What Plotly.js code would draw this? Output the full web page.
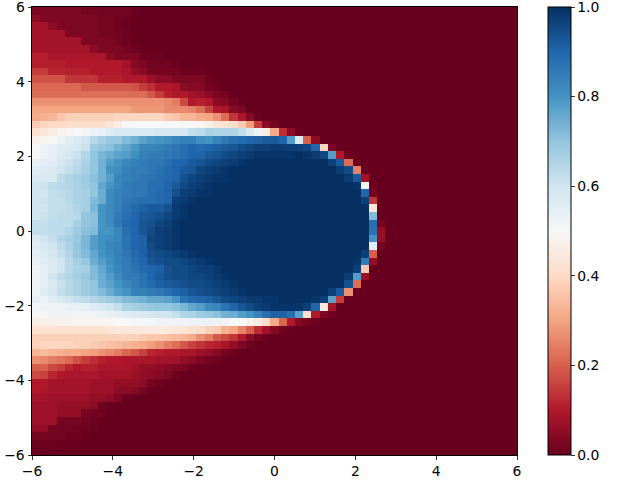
<!DOCTYPE html>
<html>
<head>
<meta charset="utf-8">
<script src="https://cdn.plot.ly/plotly-3.0.1.min.js"></script>
<style>html,body{margin:0;padding:0;background:#fff;overflow:hidden}</style>
</head>
<body>
<div id="chart" style="width:640px;height:500px;margin-top:-20px"></div>
<script>
// rows, top row (y = 6) first; what is missing at the end of a row is 0
var nCells = 59;
var tickValsX = [-6, -4, -2, 0, 2, 4, 6];
var tickValsBar = [0, 0.2, 0.4, 0.6, 0.8, 1];

var rowsTop = [
  [.03,.03,.03,.03,.03,.03,.02,.02,.015,.015,.015,.015,.005],
  [.05,.03,.03,.03,.03,.03,.03,.03,.02,.02,.015,.01],
  [.08,.08,.05,.03,.03,.03,.03,.03,.02,.02,.015,.005],
  [.08,.08,.08,.08,.03,.03,.03,.03,.02,.02,.015,.01],
  [.08,.08,.08,.08,.08,.08,.03,.03,.03,.03,.02,.01],
  [.08,.08,.08,.08,.08,.08,.08,.05,.03,.03,.03,.02,.01],
  [.11,.11,.09,.09,.09,.09,.09,.09,.09,.05,.03,.03,.03,.01,.01,.01],
  [.11,.11,.11,.11,.1,.1,.1,.1,.1,.1,.1,.08,.04,.03,.015,.015,.015,.01],
  [.15,.15,.12,.12,.11,.11,.11,.1,.1,.1,.1,.09,.06,.04,.02,.02,.02,.02,.01,.01,.01],
  [.18,.18,.18,.18,.14,.14,.14,.14,.11,.11,.11,.1,.1,.1,.07,.05,.05,.03,.03,.03,.03,.01],
  [.21,.21,.21,.21,.21,.21,.19,.19,.19,.19,.19,.19,.18,.15,.13,.1,.1,.09,.05,.04,.04,.02,.01],
  [.22,.22,.22,.22,.22,.22,.22,.22,.22,.22,.22,.22,.22,.22,.19,.15,.11,.1,.1,.08,.07,.05,.03,.02],
  [.27,.27,.27,.27,.27,.27,.27,.27,.27,.27,.27,.27,.27,.27,.27,.27,.26,.24,.17,.1,.11,.1,.05,.04,.02,.005],
  [.3,.3,.3,.3,.3,.3,.3,.3,.3,.3,.3,.3,.28,.28,.28,.28,.26,.26,.26,.25,.22,.16,.1,.09,.04,.03],
  [.31,.32,.33,.36,.38,.38,.38,.38,.38,.38,.39,.39,.39,.39,.39,.39,.37,.36,.33,.33,.31,.3,.27,.22,.14,.09,.04,.005],
  [.37,.39,.4,.4,.41,.41,.41,.41,.41,.43,.46,.5,.5,.5,.5,.5,.5,.5,.5,.5,.49,.47,.44,.43,.41,.37,.29,.15,.05,.02],
  [.42,.44,.46,.48,.49,.5,.51,.53,.54,.56,.58,.58,.58,.58,.58,.59,.59,.59,.59,.62,.63,.66,.65,.65,.65,.62,.58,.53,.46,.31,.13,.05,.01],
  [.47,.49,.5,.53,.56,.58,.6,.64,.67,.69,.69,.72,.74,.77,.79,.8,.81,.83,.84,.84,.81,.8,.83,.86,.88,.89,.9,.91,.92,.92,.9,.78,.57,.2,.05],
  [.5,.53,.54,.56,.57,.59,.61,.68,.7,.71,.74,.76,.79,.83,.83,.84,.85,.86,.88,.9,.89,.9,.91,.92,.93,.95,.96,.97,.97,.98,.98,.97,.97,.96,.9,.39,.03],
  [.51,.53,.55,.57,.59,.61,.65,.7,.73,.75,.77,.78,.81,.84,.85,.85,.86,.87,.88,.9,.9,.92,.93,.95,.96,.97,.98,.99,.99,.99,.99,.99,1,.99,.98,.96,.78,.1,.01],
  [.54,.55,.56,.58,.61,.63,.66,.7,.74,.78,.8,.83,.84,.85,.86,.86,.88,.9,.9,.92,.93,.95,.96,.97,.98,.99,1,1,1,1,1,1,1,1,1,1,.97,.92,.22,.01],
  [.56,.57,.58,.6,.62,.64,.67,.7,.74,.8,.81,.84,.85,.85,.86,.87,.89,.9,.92,.93,.96,.97,.98,.99,1,1,1,1,1,1,1,1,1,1,1,1,1,.98,.95,.25],
  [.58,.58,.58,.63,.65,.67,.68,.71,.74,.78,.83,.84,.85,.86,.87,.88,.89,.9,.94,.96,.97,.98,.99,.99,1,1,1,1,1,1,1,1,1,1,1,1,1,1,.98,.92,.08],
  [.6,.61,.63,.64,.65,.66,.68,.7,.76,.8,.83,.85,.86,.86,.88,.88,.9,.92,.95,.97,.98,.99,1,1,1,1,1,1,1,1,1,1,1,1,1,1,1,1,1,.99,.5,.01],
  [.6,.6,.62,.63,.64,.66,.67,.7,.75,.82,.84,.85,.86,.86,.88,.89,.9,.94,.97,.98,.99,.99,1,1,1,1,1,1,1,1,1,1,1,1,1,1,1,1,1,1,.9,.02],
  [.6,.61,.62,.62,.64,.66,.67,.72,.75,.82,.84,.86,.87,.88,.88,.89,.9,.97,.98,.99,1,1,1,1,1,1,1,1,1,1,1,1,1,1,1,1,1,1,1,1,.97,.14],
  [.6,.6,.62,.62,.63,.65,.67,.73,.8,.82,.84,.87,.89,.91,.92,.92,.94,.98,.99,1,1,1,1,1,1,1,1,1,1,1,1,1,1,1,1,1,1,1,1,1,1,.44],
  [.6,.61,.62,.63,.63,.64,.7,.71,.8,.82,.85,.88,.9,.92,.93,.94,.96,.98,.99,1,1,1,1,1,1,1,1,1,1,1,1,1,1,1,1,1,1,1,1,1,1,.72],
  [.62,.62,.63,.63,.63,.67,.7,.71,.8,.82,.86,.89,.9,.93,.94,.96,.97,.99,1,1,1,1,1,1,1,1,1,1,1,1,1,1,1,1,1,1,1,1,1,1,1,.88,.02]
];

var rowsMiddle = [
  [.62,.62,.63,.63,.65,.68,.71,.72,.8,.8,.83,.88,.9,.93,.95,.97,.98,.99,1,1,1,1,1,1,1,1,1,1,1,1,1,1,1,1,1,1,1,1,1,1,1,.87,.06]
];

var rowsBottom = [
  [.57,.6,.62,.65,.67,.69,.73,.78,.81,.82,.83,.87,.9,.91,.96,.97,.98,.99,1,1,1,1,1,1,1,1,1,1,1,1,1,1,1,1,1,1,1,1,1,1,1,.8,.06],
  [.56,.58,.6,.63,.66,.7,.73,.78,.81,.83,.84,.87,.9,.91,.95,.97,.98,.99,1,1,1,1,1,1,1,1,1,1,1,1,1,1,1,1,1,1,1,1,1,1,1,.55,.02],
  [.55,.57,.59,.62,.65,.69,.72,.76,.8,.82,.84,.86,.89,.91,.94,.95,.96,.97,.98,.99,1,1,1,1,1,1,1,1,1,1,1,1,1,1,1,1,1,1,1,1,.97,.2],
  [.54,.56,.58,.6,.64,.67,.69,.75,.78,.81,.84,.85,.88,.9,.93,.94,.95,.95,.96,.97,.98,.99,1,1,1,1,1,1,1,1,1,1,1,1,1,1,1,1,1,.99,.85,.06],
  [.53,.55,.57,.6,.64,.66,.67,.72,.76,.8,.83,.85,.87,.89,.9,.91,.94,.95,.95,.96,.97,.97,.985,1,1,1,1,1,1,1,1,1,1,1,1,1,1,1,1,.97,.37],
  [.53,.55,.6,.63,.65,.67,.69,.72,.75,.78,.82,.85,.85,.87,.9,.92,.94,.95,.95,.96,.96,.97,.98,.99,1,1,1,1,1,1,1,1,1,1,1,1,1,1,.98,.78,.07],
  [.52,.55,.58,.61,.64,.66,.68,.7,.75,.77,.8,.83,.85,.87,.89,.91,.92,.93,.94,.95,.95,.96,.97,.98,.99,1,1,1,1,1,1,1,1,1,1,1,1,1,.94,.22],
  [.52,.56,.59,.62,.64,.66,.68,.7,.72,.75,.78,.8,.84,.84,.85,.86,.88,.9,.91,.93,.94,.95,.96,.97,.98,.99,1,1,1,1,1,1,1,1,1,1,.97,.92,.27],
  [.55,.53,.56,.58,.6,.62,.63,.65,.67,.68,.7,.72,.73,.74,.76,.76,.77,.8,.87,.89,.9,.91,.93,.95,.96,.97,.98,.98,.99,.99,1,1,1,1,.99,.97,.77,.15],
  [.51,.52,.52,.53,.54,.54,.55,.56,.58,.6,.62,.66,.67,.68,.69,.7,.7,.71,.73,.76,.78,.82,.83,.87,.9,.93,.95,.97,.98,.99,.99,.99,.99,.97,.9,.45,.08],
  [.49,.51,.52,.52,.52,.52,.52,.52,.53,.54,.55,.56,.57,.58,.59,.6,.6,.62,.65,.66,.68,.69,.71,.74,.75,.78,.8,.84,.88,.91,.91,.88,.77,.42,.1,.03,.015],
  [.46,.47,.47,.48,.48,.49,.49,.49,.49,.49,.5,.5,.51,.51,.51,.52,.52,.52,.52,.53,.53,.53,.52,.52,.5,.5,.48,.46,.41,.31,.21,.1,.04,.02,.01],
  [.42,.42,.42,.42,.42,.42,.42,.42,.42,.43,.44,.44,.44,.44,.45,.45,.45,.44,.43,.42,.41,.38,.37,.32,.3,.25,.2,.13,.08,.04,.015,.005],
  [.38,.38,.38,.38,.38,.38,.38,.38,.38,.38,.38,.38,.38,.37,.36,.36,.35,.34,.33,.31,.27,.24,.19,.17,.14,.1,.05,.02,.005],
  [.38,.39,.39,.39,.39,.38,.38,.37,.36,.35,.34,.33,.32,.31,.29,.27,.24,.22,.19,.16,.14,.12,.11,.09,.06,.03,.01],
  [.33,.34,.33,.32,.31,.31,.3,.29,.27,.26,.24,.21,.19,.16,.12,.11,.1,.1,.09,.09,.07,.06,.04,.02,.01],
  [.27,.26,.24,.23,.21,.18,.15,.13,.11,.1,.1,.09,.09,.09,.09,.08,.08,.08,.06,.05,.03,.02,.01],
  [.2,.2,.17,.15,.12,.1,.11,.11,.09,.09,.09,.09,.08,.06,.06,.05,.04,.03,.03,.01,.005],
  [.17,.16,.12,.1,.09,.09,.09,.09,.08,.08,.08,.08,.07,.06,.05,.04,.03,.01,.005],
  [.1,.1,.08,.08,.08,.08,.08,.07,.07,.07,.06,.06,.06,.05,.02,.01,.005],
  [.1,.09,.08,.08,.08,.08,.08,.07,.07,.07,.05,.05,.04,.02,.005],
  [.08,.08,.07,.07,.07,.07,.07,.06,.06,.05,.03,.005],
  [.07,.07,.07,.06,.06,.06,.06,.05,.01,.005],
  [.07,.07,.07,.06,.06,.06,.02,.015,.01,.005],
  [.07,.07,.07,.02,.02,.02,.015,.01],
  [.06,.06,.02,.015,.015,.01,.01,.005],
  [.02,.02,.015,.015,.01,.01,.005],
  [.008,.008,.008,.005,.005],
  [.005,.005,.005]
];

// matplotlib RdBu
var rdBu = [
  [0, "#67001f"], [0.1, "#b2182b"], [0.2, "#d6604d"], [0.3, "#f4a582"],
  [0.4, "#fddbc7"], [0.5, "#f7f7f7"], [0.6, "#d1e5f0"], [0.7, "#92c5de"],
  [0.8, "#4393c3"], [0.9, "#2166ac"], [1, "#053061"]
];

var cellSize = 12 / nCells;
var z = rowsTop.concat(rowsMiddle, rowsBottom).reverse().map(function (row) {
  return row.concat(new Array(nCells - row.length).fill(0));
});

var trace = {
  type: "heatmap",
  z: z,
  x0: -6 + cellSize / 2,
  dx: cellSize,
  y0: -6 + cellSize / 2,
  dy: cellSize,
  zmin: 0,
  zmax: 1,
  zsmooth: false,
  colorscale: rdBu,
  colorbar: {
    x: 1.064,
    xanchor: "left",
    y: 0.5,
    yanchor: "middle",
    len: 1.0005,
    thickness: 23,
    xpad: 0,
    ypad: 0,
    outlinewidth: 1,
    outlinecolor: "#000",
    tickmode: "array",
    tickvals: tickValsBar,
    ticktext: ["0.0", "0.2", "0.4", "0.6", "0.8", "1.0"],
    ticks: "outside",
    ticklen: 3.5,
    tickwidth: 0.8,
    tickcolor: "#000",
    ticklabeloverflow: "allow",
    tickfont: { family: "DejaVu Sans", size: 13.9, color: "#000" }
  }
};

function axis() {
  return {
    range: [-6, 6],
    tickmode: "array",
    tickvals: tickValsX,
    ticktext: ["\u22126", "\u22124", "\u22122", "0", "2", "4", "6"],
    ticks: "outside",
    ticklen: 3.5,
    tickwidth: 0.8,
    tickcolor: "#000",
    showline: true,
    mirror: true,
    linecolor: "#000",
    linewidth: 1,
    showgrid: false,
    zeroline: false,
    ticklabeloverflow: "allow",
    tickfont: { family: "DejaVu Sans", size: 13.9, color: "#000" }
  };
}

var layout = {
  width: 640,
  height: 500,
  margin: { l: 32, r: 123, t: 27, b: 25, pad: 0 },
  paper_bgcolor: "#fff",
  plot_bgcolor: "#fff",
  xaxis: axis(),
  yaxis: axis()
};

Plotly.newPlot("chart", [trace], layout, { displayModeBar: false, staticPlot: true });
</script>
</body>
</html>
